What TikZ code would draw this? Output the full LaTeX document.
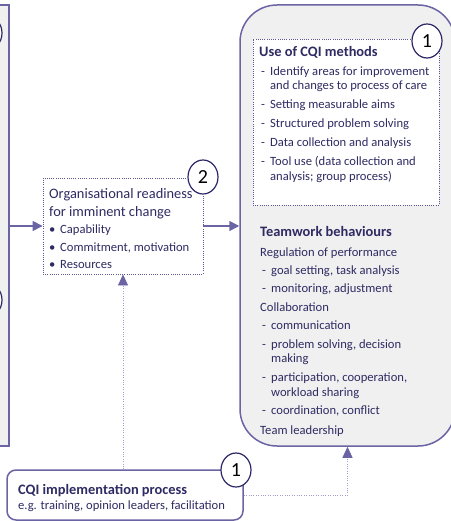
\documentclass[tikz,border=0pt]{standalone}
\usepackage{fontspec}
\setmainfont{Carlito}
\usetikzlibrary{arrows.meta,shapes.geometric}
\definecolor{bord}{HTML}{6B64A4}
\definecolor{ink}{HTML}{2E2B63}
\definecolor{boxfill}{HTML}{F0F0F0}
\definecolor{circ}{HTML}{2B2766}
\definecolor{dotc}{HTML}{5A5696}
\definecolor{lightdot}{HTML}{A29ECB}
\begin{document}
\begin{tikzpicture}[x=1pt,y=-1pt,
  txt/.style={anchor=base west, inner sep=0pt, text=ink, font=\fontsize{12.6}{15}\selectfont},
  ttl/.style={anchor=base west, inner sep=0pt, text=ink, font=\fontsize{14.4}{17}\selectfont\bfseries},
  big/.style={anchor=base west, inner sep=0pt, text=ink, font=\fontsize{14.4}{17}\selectfont},
  solidbox/.style={draw=bord, fill=boxfill, line width=1.5pt, inner sep=0pt},
  dotbox/.style={draw=dotc, fill=white, line width=0.9pt, dash pattern=on 0.9pt off 1.3pt, inner sep=0pt},
  num/.style={ellipse, draw=circ, fill=white, line width=1.2pt, minimum width=30pt, minimum height=34pt, inner sep=0pt, font=\fontsize{20}{20}\selectfont, text=black},
  solidarrow/.style={draw=bord, line width=1.6pt, -{Triangle[length=10pt,width=10pt]}},
  dotarrow/.style={draw=lightdot, line width=0.8pt, dash pattern=on 0.8pt off 1.6pt, -{Triangle[length=11pt,width=10pt,color=bord,fill=bord]}}
]
\useasboundingbox (0,0) rectangle (450,521);

% boxes
\node[solidbox, minimum width=39pt, minimum height=441pt] (left) at (-10.5,225.5) {};
\node[solidbox, rounded corners=37pt, minimum width=215pt, minimum height=441pt] (bigbox) at (347.5,225.5) {};
\node[dotbox, minimum width=186pt, minimum height=166pt] (cqi) at (346,122) {};
\node[dotbox, minimum width=160pt, minimum height=96pt] (org) at (123,226) {};
\node[draw=bord, fill=white, line width=1.5pt, rounded corners=9pt, inner sep=0pt, minimum width=236pt, minimum height=50pt] (bot) at (125,495) {};

% connectors
\draw[solidarrow] (left.east |- org.west) -- (org.west);
\draw[solidarrow] (org.east) -- (bigbox.west |- org.east);
\draw[dotarrow] (bot.north -| org.south) -- (org.south);
\draw[dotarrow] (bot.east) -| (bigbox.south);

% number circles
\node[num] (nl1) at (-13,33) {};
\node[num] (nl2) at (-13,300) {};
\node[num] (n1top) at (427,41) {1};
\node[num] (n2) at (203,177) {2};
\node[num] (n1bot) at (236,470) {1};

% CQI methods
\node[ttl] (u0) at (259,57) {Use of CQI methods};
\node[txt] (ud1) at (261,76) {-};
\node[txt] (u1) at (270,76) {Identify areas for improvement};
\node[txt] (u1b) at (270,90) {and changes to process of care};
\node[txt] (ud2) at (261,109) {-};
\node[txt] (u2) at (270,109) {Setting measurable aims};
\node[txt] (ud3) at (261,128) {-};
\node[txt] (u3) at (270,128) {Structured problem solving};
\node[txt] (ud4) at (261,147) {-};
\node[txt] (u4) at (270,147) {Data collection and analysis};
\node[txt] (ud5) at (261,166) {-};
\node[txt] (u5) at (270,166) {Tool use (data collection and};
\node[txt] (u5b) at (270,181) {analysis; group process)};

% Teamwork
\node[ttl] (t0) at (260,236) {Teamwork behaviours};
\node[txt] (t1) at (260,256) {Regulation of performance};
\node[txt] (td2) at (262,274) {-};
\node[txt] (t2) at (271,274) {goal setting, task analysis};
\node[txt] (td3) at (262,292) {-};
\node[txt] (t3) at (271,292) {monitoring, adjustment};
\node[txt] (t4) at (260,311) {Collaboration};
\node[txt] (td5) at (262,329) {-};
\node[txt] (t5) at (271,329) {communication};
\node[txt] (td6) at (262,348) {-};
\node[txt] (t6) at (271,348) {problem solving, decision};
\node[txt] (t6b) at (271,362) {making};
\node[txt] (td7) at (262,381) {-};
\node[txt] (t7) at (271,381) {participation, cooperation,};
\node[txt] (t7b) at (271,396) {workload sharing};
\node[txt] (td8) at (262,414) {-};
\node[txt] (t8) at (271,414) {coordination, conflict};
\node[txt] (t9) at (260,434) {Team leadership};

% Organisational readiness
\node[big] (o0) at (49,198) {Organisational readiness};
\node[big] (o0b) at (49,216) {for imminent change};
\node[txt] (ob1) at (49,233) {\textbullet};
\node[txt] (o1) at (60,233) {Capability};
\node[txt] (ob2) at (49,251) {\textbullet};
\node[txt] (o2) at (60,251) {Commitment, motivation};
\node[txt] (ob3) at (49,268) {\textbullet};
\node[txt] (o3) at (60,268) {Resources};

% CQI implementation
\node[ttl] (b0) at (18,494) {CQI implementation process};
\node[txt] (b1) at (18,509) {e.g. training, opinion leaders, facilitation};
\end{tikzpicture}
\end{document}
